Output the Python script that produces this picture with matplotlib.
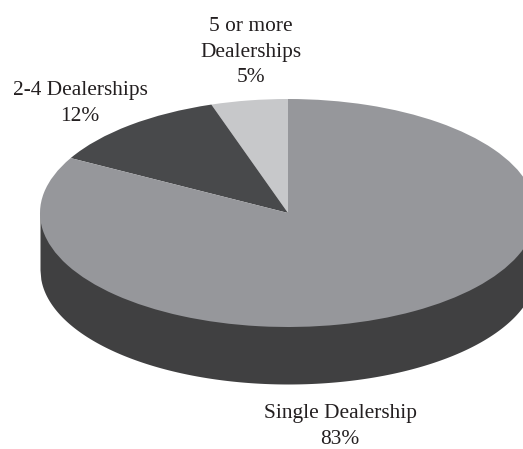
import numpy as np
import matplotlib
matplotlib.use("Agg")
import matplotlib.pyplot as plt

# dealership ownership shares, percent
categories = ["Single Dealership", "2-4 Dealerships", "5 or more\nDealerships"]
shares = [83, 12, 5]
top_colors = ["#96979b", "#48494b", "#c7c8ca"]
side_color = "#404041"

W, H = 523, 449
cx, cy = 288, 213    # pie centre in pixels
rx, ry = 248, 114    # ellipse radii in pixels
depth = 57 / ry      # height of the disc side, in pie radii

plt.rcParams['font.family'] = ['Liberation Serif', 'DejaVu Serif']

fig = plt.figure(figsize=(W / 100, H / 100), dpi=100)
ax = fig.add_axes([0, 0, 1, 1])

# side of the disc, only the front half shows
x = np.linspace(-1, 1, 600)
edge = -np.sqrt(1 - x**2)
ax.fill_between(x, edge - depth, 0, color=side_color, lw=0)

# pie starts at 12 o'clock; the 5 and 12 slices run counter-clockwise from the top
wedges, _ = ax.pie(shares[::-1], colors=top_colors[::-1], startangle=90, counterclock=True,
                   radius=1, center=(0, 0), wedgeprops={'linewidth': 0})

ax.set_aspect('auto')
ax.set_xlim(-cx / rx, (W - cx) / rx)
ax.set_ylim((cy - H) / ry, cy / ry)
ax.axis('off')

# label centres in figure pixels, y down
label_pos = [(340, 426.5), (80, 103.5), (251, 52)]
for cat, val, (px, py) in zip(categories, shares, label_pos):
    fig.text(px / W, 1 - py / H, f"{cat}\n{val}%", ha='center', va='center',
             fontsize=15.4, color='#231f20', linespacing=1.45, multialignment='center')

fig.savefig("out.png", dpi=100)
